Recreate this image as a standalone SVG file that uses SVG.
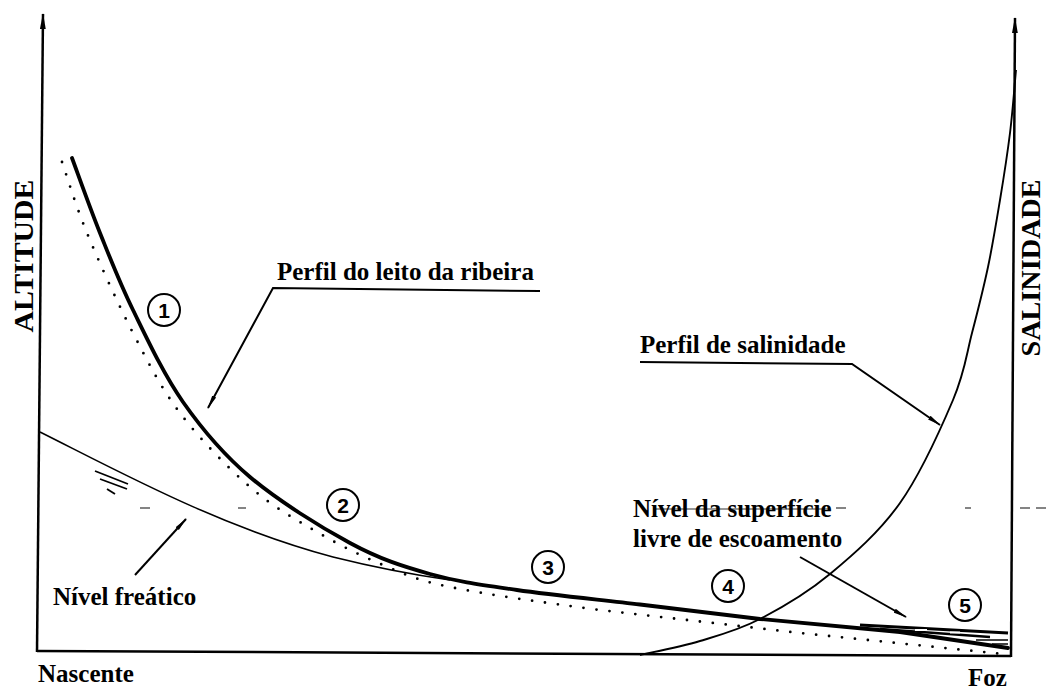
<svg xmlns="http://www.w3.org/2000/svg" width="1046" height="689" viewBox="0 0 1046 689">
<defs>
<marker id="ah" viewBox="0 0 14 6" refX="13" refY="3" markerWidth="14" markerHeight="6" markerUnits="userSpaceOnUse" orient="auto"><path d="M0,0.8 L14,3 L0,5.2 Z" fill="#000"/></marker>
<marker id="axh" viewBox="0 0 16 7" refX="15" refY="3.5" markerWidth="16" markerHeight="7" markerUnits="userSpaceOnUse" orient="auto"><path d="M0,0.6 L16,3.5 L0,6.4 Z" fill="#000"/></marker>
</defs>
<style>
.lbl{font-family:"Liberation Serif","Times New Roman",serif;font-weight:bold;font-size:25px;fill:#000}
.ax{font-family:"Liberation Serif","Times New Roman",serif;font-weight:bold;font-size:27px;fill:#000;text-anchor:middle}
.num{font-family:"Liberation Sans",Arial,sans-serif;font-weight:bold;font-size:21px;text-anchor:middle;fill:#000}
.ring{fill:#fff;stroke:#000;stroke-width:2}
.axis{fill:none;stroke:#000;stroke-width:2.5}
.bed{fill:none;stroke:#000;stroke-width:3.8;stroke-linecap:round;stroke-linejoin:round}
.dots{fill:none;stroke:#000;stroke-width:2.8;stroke-linecap:round;stroke-dasharray:0 13}
.thin{fill:none;stroke:#000;stroke-width:1.6}
.lead{fill:none;stroke:#000;stroke-width:2}
.art{stroke:#333;stroke-width:1.2}
</style>
<rect width="1046" height="689" fill="#fff"/>

<g id="artifact">
<line class="art" x1="140" y1="508" x2="150" y2="508"/>
<line class="art" x1="238" y1="508" x2="246" y2="508"/>
<line class="art" x1="653" y1="509" x2="830" y2="509"/>
<line class="art" x1="836" y1="508" x2="846" y2="508"/>
<line class="art" x1="965" y1="508" x2="971" y2="508"/>
<line class="art" x1="1020" y1="508" x2="1030" y2="508"/>
<line class="art" x1="1036" y1="508" x2="1046" y2="508"/>
</g>

<g id="axes">
<path class="axis" d="M37,652 L43,14" marker-end="url(#axh)"/>
<path class="axis" d="M1011,657 L1015,18" marker-end="url(#axh)"/>
<path class="axis" d="M37,651 L1011,656"/>
</g>

<g id="curves">
<path id="dotted-profile" class="dots" d="M62,162 C66.2,173.8 75.2,204.5 87,233 C98.8,261.5 117.5,303 133,333 C148.5,363 160.5,387.3 180,413 C199.5,438.7 227.2,467.2 250,487 C272.8,506.8 294.8,519 317,532 C339.2,545 360.8,555.8 383,565 C405.2,574.2 413.8,579.5 450,587 C486.2,594.5 541.7,602.3 600,610 L800,633 L1003,654"/>
<path id="water-table" class="thin" d="M40,432 C120,472 220,527 333,557 C373,567 415,575 450,580"/>
<path id="bed-profile" class="bed" d="M72,158 C76.7,170.5 89.8,207.7 100,233 C110.2,258.3 119.2,281.8 133,310 C146.8,338.2 163.5,374.2 183,402 C202.5,429.8 222.2,453.5 250,477 C277.8,500.5 320,526.8 350,543 C380,559.2 402.2,566.2 430,574 C457.8,581.8 482,584.9 517,590 C552,595.1 599.5,599.7 640,604.5 L760,619 L900,632 L1008,648"/>
<path id="salinity" class="thin" style="stroke-width:1.9" d="M640,655 C650,652.7 680,647 700,641 C720,635 738.3,630.2 760,619 C781.7,607.8 806.7,593.3 830,574 C853.3,554.7 879.5,532 900,503 C920.5,474 941,428.3 953,400 C965,371.7 966.2,355.2 972,333 C977.8,310.8 983.3,289.2 988,267 C992.7,244.8 996.3,222.3 1000,200 C1003.7,177.7 1007.3,154.7 1010,133 C1012.7,111.3 1015,80.5 1016,70"/>
<g id="free-surface">
<path d="M860,625 L1008,633" stroke="#000" stroke-width="2.8" fill="none"/>
<path d="M880,629 L990,637" stroke="#000" stroke-width="2.4" fill="none"/>
<rect x="915" y="629" width="12" height="2" fill="#fff"/>
<rect x="950" y="631.5" width="10" height="2" fill="#fff"/>
<line x1="976" y1="640" x2="1008" y2="640" stroke="#000" stroke-width="1.5"/>
<line x1="992" y1="644" x2="1008" y2="644" stroke="#000" stroke-width="1.5"/>
</g>
<g id="water-symbol" stroke="#000" stroke-width="1.8">
<line x1="95" y1="471" x2="128" y2="484"/>
<line x1="100" y1="479" x2="127" y2="489"/>
<line x1="107" y1="489" x2="115" y2="494"/>
</g>
</g>

<g id="connectors">
<path class="lead" d="M540,291 L273,288 L208,408" marker-end="url(#ah)"/>
<path class="lead" d="M640,362 L852,364 L940,425" marker-end="url(#ah)"/>
<path class="lead" d="M800,557 L906,617" marker-end="url(#ah)"/>
<path class="lead" d="M135,575 L186,519" marker-end="url(#ah)"/>
</g>

<g id="label-bed"><text class="lbl" x="277" y="280">Perfil do leito da ribeira</text></g>
<g id="label-salinity"><text class="lbl" x="640" y="353">Perfil de salinidade</text></g>
<g id="label-surface"><text class="lbl" x="633" y="517">Nível da superfície</text><text class="lbl" x="633" y="547">livre de escoamento</text></g>
<g id="label-freatico"><text class="lbl" x="53" y="605">Nível freático</text></g>
<g id="label-nascente"><text class="lbl" x="38" y="682">Nascente</text></g>
<g id="label-foz"><text class="lbl" x="968" y="686">Foz</text></g>
<g id="label-altitude"><text class="ax" transform="translate(33,256) rotate(-90)" textLength="153" lengthAdjust="spacingAndGlyphs">ALTITUDE</text></g>
<g id="label-salinidade"><text class="ax" transform="translate(1040,268) rotate(-90)" textLength="177" lengthAdjust="spacingAndGlyphs">SALINIDADE</text></g>

<g id="n1"><circle class="ring" cx="164" cy="310" r="16"/><text class="num" x="164" y="317.5">1</text></g>
<g id="n2"><circle class="ring" cx="343" cy="505" r="16"/><text class="num" x="343" y="512.5">2</text></g>
<g id="n3"><circle class="ring" cx="548" cy="567" r="16"/><text class="num" x="548" y="574.5">3</text></g>
<g id="n4"><circle class="ring" cx="728" cy="586" r="16"/><text class="num" x="728" y="593.5">4</text></g>
<g id="n5"><circle class="ring" cx="965" cy="605" r="16"/><text class="num" x="965" y="612.5">5</text></g>
</svg>
